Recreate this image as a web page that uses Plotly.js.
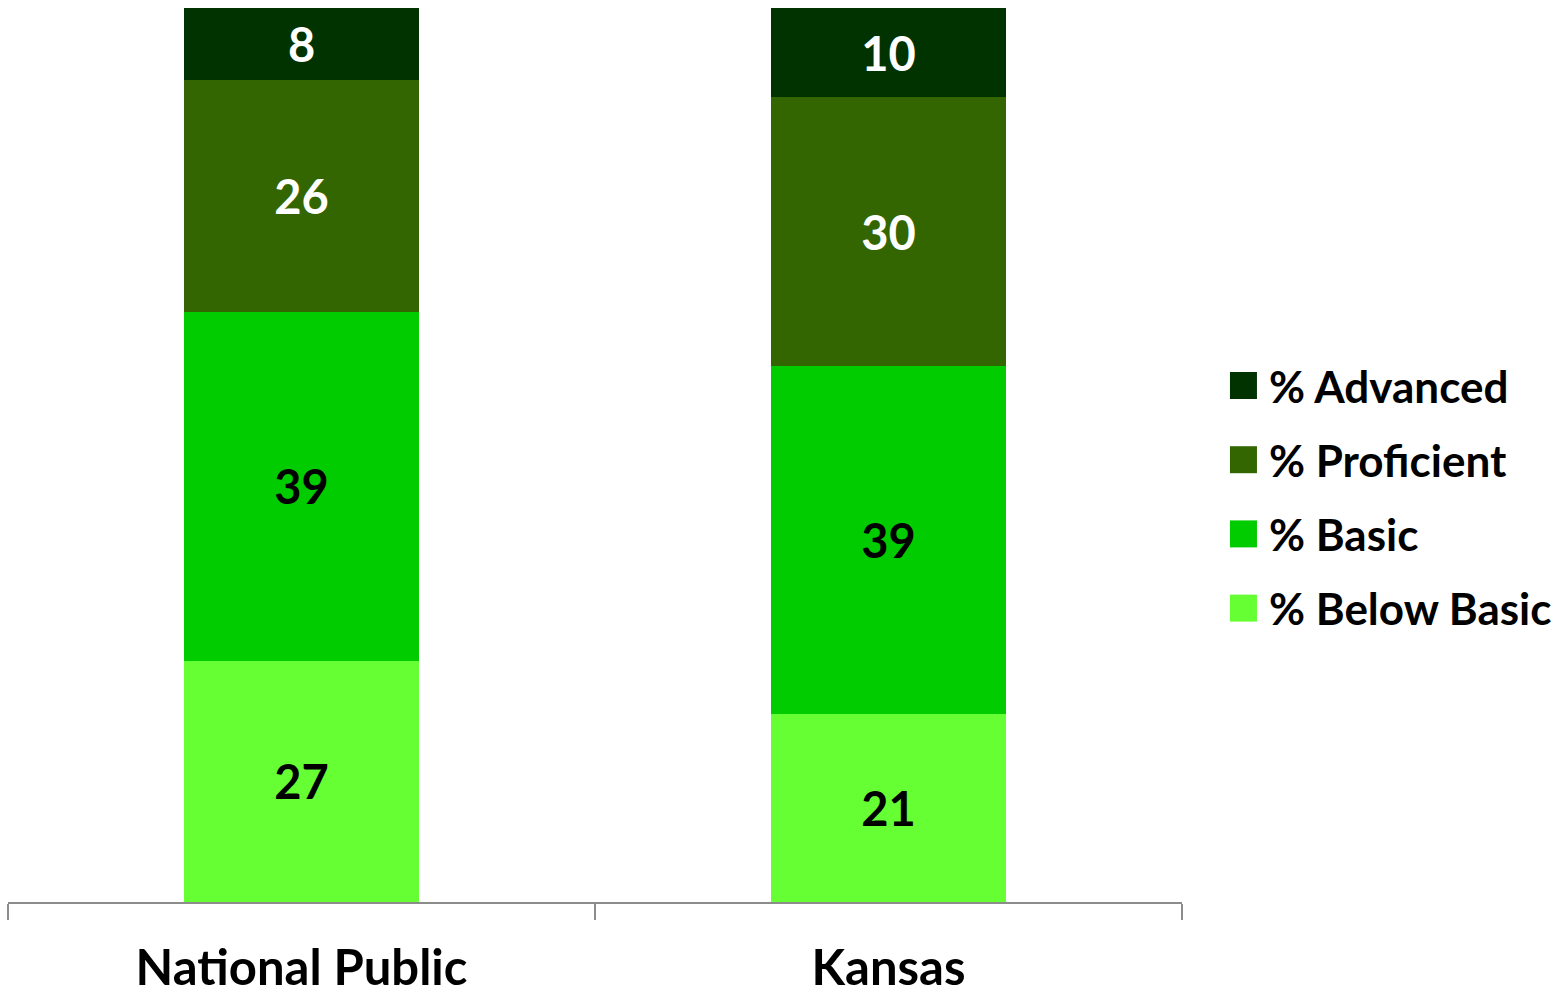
<!DOCTYPE html>
<html>
<head>
<meta charset="utf-8">
<script src="https://cdn.plot.ly/plotly-3.0.1.min.js"></script>
<style>html,body{margin:0;padding:0;background:#fff;}#chart{width:1567px;height:994px;}</style>
</head>
<body>
<div id="chart"></div>
<script>
const categories = ["National Public", "Kansas"];
const seriesNames = ["% Below Basic", "% Basic", "% Proficient", "% Advanced"];
const belowBasic = [27, 21];
const basic = [39, 39];
const proficient = [26, 30];
const advanced = [8, 10];
const seriesValues = [belowBasic, basic, proficient, advanced];
const seriesColors = ["#66FF33", "#00CC00", "#336600", "#003300"];
const labelColors = ["#000000", "#000000", "#FFFFFF", "#FFFFFF"];

const FONT = "Lato, 'Open Sans', sans-serif";

const traces = seriesValues.map((vals, i) => ({
  type: "bar",
  name: seriesNames[i],
  x: categories,
  y: vals,
  text: vals.map(String),
  textposition: "inside",
  insidetextanchor: "middle",
  textangle: 0,
  constraintext: "none",
  textfont: {family: FONT, size: 47, color: labelColors[i], weight: "bold"},
  marker: {color: seriesColors[i], line: {width: 0}},
  legendgroup: "g" + i,
  legendrank: seriesValues.length - i,
  hoverinfo: "none"
}));

const layout = {
  width: 1567,
  height: 994,
  margin: {l: 8, r: 385, t: 8, b: 92},
  paper_bgcolor: "#ffffff",
  plot_bgcolor: "#ffffff",
  barmode: "stack",
  bargap: 0.6,
  showlegend: true,
  legend: {
    x: 1.04, xanchor: "left",
    y: 0.617, yanchor: "top",
    traceorder: "grouped",
    tracegroupgap: 14,
    font: {family: FONT, size: 44, color: "#000000", weight: "bold"},
    bgcolor: "rgba(0,0,0,0)"
  },
  xaxis: {
    type: "category",
    showline: true,
    linecolor: "#8c8c8c",
    linewidth: 2,
    ticks: "outside",
    tickson: "boundaries",
    ticklen: 16,
    tickwidth: 2,
    tickcolor: "#8c8c8c",
    ticklabelstandoff: 22,
    showgrid: false,
    zeroline: false,
    tickfont: {family: FONT, size: 49, color: "#000000", weight: "bold"},
    fixedrange: true
  },
  yaxis: {
    range: [0, 100],
    visible: false,
    showgrid: false,
    zeroline: false,
    fixedrange: true
  }
};

Plotly.newPlot("chart", traces, layout, {displayModeBar: false, staticPlot: true}).then(() => {
  document.querySelectorAll(".legend [clip-path]").forEach(el => el.removeAttribute("clip-path"));
  document.querySelectorAll(".legend .legendpoints path").forEach(p => {
    p.setAttribute("d", "M28,13.5H1V-13.5H28Z");
    p.removeAttribute("transform");
  });
});
</script>
</body>
</html>
